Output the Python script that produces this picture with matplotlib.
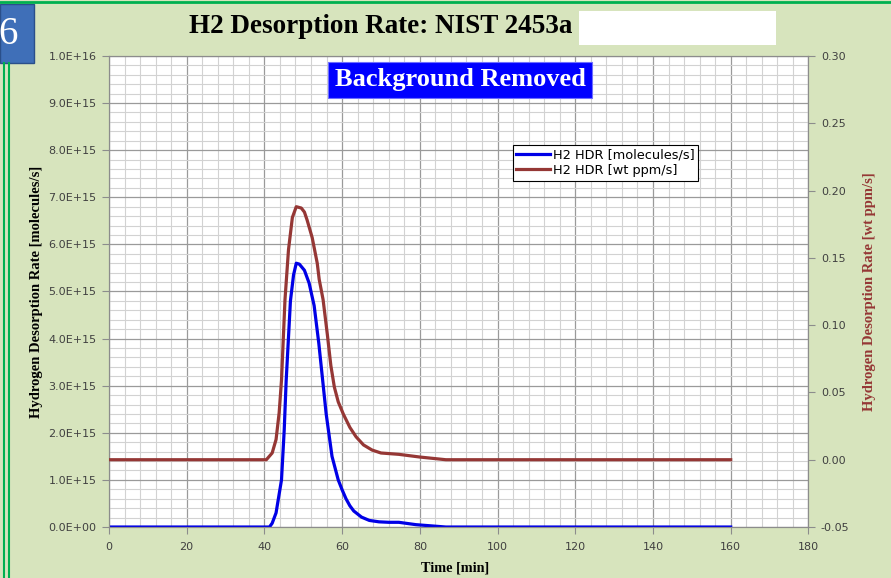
import matplotlib.pyplot as plt
from matplotlib.patches import Rectangle
from matplotlib.lines import Line2D
from matplotlib.ticker import MultipleLocator, FuncFormatter

# data
time_mol = [0, 40, 41.3, 42, 43, 44.4, 45.1, 45.6, 46.7, 47.5, 48.2, 49, 50.3, 51.5,
            52.8, 54, 55.9, 57.4, 59, 60, 61, 62, 63, 65, 67, 69.5, 72, 74.6, 79,
            86.7, 100, 160]
hdr_mol = [0, 0, 0, 0.08e15, 0.3e15, 1.0e15, 2.06e15, 3.1e15, 4.8e15, 5.35e15, 5.6e15,
           5.58e15, 5.45e15, 5.18e15, 4.7e15, 3.9e15, 2.4e15, 1.5e15, 1.0e15, 0.79e15,
           0.6e15, 0.45e15, 0.34e15, 0.21e15, 0.14e15, 0.11e15, 0.1e15, 0.1e15, 0.05e15,
           0, 0, 0]

time_ppm = [0, 40.5, 42, 43, 43.8, 44.4, 45.3, 46.2, 47.2, 48.2, 49.5, 50.3, 51, 52.3,
            53.6, 54.1, 55.1, 56.2, 57.1, 58, 59, 60.3, 62, 63.6, 65.5, 67.7, 70,
            74.6, 80, 86.7, 160]
hdr_ppm = [0, 0, 0.005, 0.015, 0.035, 0.059, 0.119, 0.156, 0.180, 0.188, 0.187, 0.184,
           0.178, 0.165, 0.146, 0.134, 0.119, 0.093, 0.070, 0.054, 0.043, 0.034,
           0.024, 0.017, 0.011, 0.0072, 0.005, 0.004, 0.002, 0, 0]

bg = '#d7e4bd'
blue = '#0000e6'
red = '#953735'
tick_col = '#404040'

fig = plt.figure(figsize=(8.91, 5.78), dpi=100, facecolor=bg)
ax = fig.add_axes([0.1223, 0.0882, 0.785, 0.815])
ax2 = ax.twinx()

l1, = ax.plot(time_mol, hdr_mol, color=blue, lw=2.3, zorder=3)
l2, = ax2.plot(time_ppm, hdr_ppm, color=red, lw=2.3, zorder=3)

ax.set_xlim(0, 180)
ax.set_ylim(0, 1e16)
ax2.set_ylim(-0.05, 0.30)

ax.xaxis.set_major_locator(MultipleLocator(20))
ax.xaxis.set_minor_locator(MultipleLocator(4))
ax.yaxis.set_major_locator(MultipleLocator(1e15))
ax.yaxis.set_minor_locator(MultipleLocator(0.2e15))
ax2.yaxis.set_major_locator(MultipleLocator(0.05))
ax.yaxis.set_major_formatter(FuncFormatter(lambda v, p: f"{v:.1E}"))
ax2.yaxis.set_major_formatter(FuncFormatter(lambda v, p: f"{v:.2f}"))

ax.set_facecolor('white')
ax.grid(which='major', color='#9a9a9a', lw=0.9)
ax.grid(which='minor', color='#d2d2d2', lw=0.8)
ax.set_axisbelow(True)

for a in (ax, ax2):
    for s in a.spines.values():
        s.set_color('#8c8c8c')
    a.tick_params(which='major', length=5, color='#8c8c8c', labelcolor=tick_col, labelsize=8)
    a.tick_params(which='minor', length=0)
ax.tick_params(axis='x', pad=6)
ax.tick_params(axis='y', pad=4)
ax2.tick_params(axis='y', pad=4)

serif = 'Liberation Serif'
ax.set_xlabel('Time [min]', family=serif, fontweight='bold', fontsize=10.3)
ax.xaxis.set_label_coords(0.495, -0.073)
ax.set_ylabel('Hydrogen Desorption Rate [molecules/s]', family=serif,
              fontweight='bold', fontsize=10.5)
ax.yaxis.set_label_coords(-0.095, 0.5)
ax2.set_ylabel('Hydrogen Desorption Rate [wt ppm/s]', family=serif,
               fontweight='bold', fontsize=10.5, color=red)
ax2.yaxis.set_label_coords(1.078, 0.5)

leg = ax.legend([l1, l2], ['H2 HDR [molecules/s]', 'H2 HDR [wt ppm/s]'],
                loc='upper left', bbox_to_anchor=(0.577, 0.811), fontsize=9.3,
                frameon=True, fancybox=False, edgecolor='black', framealpha=1,
                handlelength=2.6, handletextpad=0.2, borderpad=0.3, labelspacing=0.15,
                borderaxespad=0)
leg.get_frame().set_linewidth(0.8)
leg.set_zorder(10)

ax.text(0.502, 0.949, 'Background Removed', transform=ax.transAxes, ha='center',
        va='center', family=serif, fontweight='bold', fontsize=19, color='white',
        zorder=10, bbox=dict(boxstyle='square,pad=0.25', fc='#0000ff', ec='#6f6fff', lw=0.8))

fig.text(381 / 891, 0.955, 'H2 Desorption Rate: NIST 2453a', ha='center', va='center',
         family=serif, fontweight='bold', fontsize=19.5)

# white block over the title and slide decorations
fig.patches.append(Rectangle((579 / 891, 1 - 45 / 578), 197 / 891, 34 / 578,
                             transform=fig.transFigure, fc='white', ec='none'))
fig.patches.append(Rectangle((0, 1 - 63 / 578), 34 / 891, 59 / 578,
                             transform=fig.transFigure, fc='#3f6fb8', ec='#2a4f8a', lw=1))
fig.text(8 / 891, 1 - 35 / 578, '6', ha='center', va='center', color='white',
         family=serif, fontsize=28)
fig.lines.append(Line2D([0, 1], [1 - 1.5 / 578] * 2, transform=fig.transFigure,
                        color='#00b050', lw=2))
for xp in (4 / 891, 9 / 891):
    fig.lines.append(Line2D([xp, xp], [0, 1 - 63 / 578], transform=fig.transFigure,
                            color='#00b050', lw=1.5))

fig.savefig('out.png', dpi=100, facecolor=bg)
